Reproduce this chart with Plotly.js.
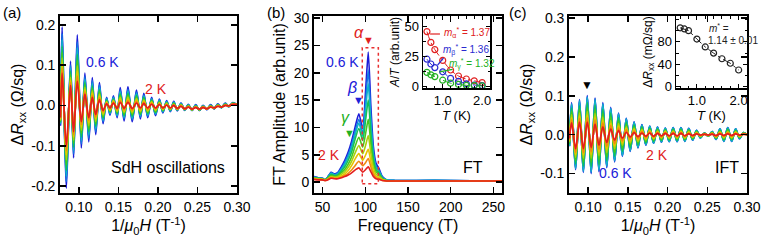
<!DOCTYPE html>
<html><head><meta charset="utf-8">
<script src="https://cdn.plot.ly/plotly-3.0.1.min.js"></script>
<style>html,body{margin:0;padding:0;background:#fff}#chart{width:763px;height:249px}</style>
</head><body><div id="chart"></div>
<script>
// ---------- data ----------
const temps = [0.6,0.7,0.8,1.0,1.2,1.4,1.6,1.8,2.0];
const tempNames = ['0.6 K','0.7 K','0.8 K','1.0 K','1.2 K','1.4 K','1.6 K','1.8 K','2.0 K'];

// (a) SdH oscillations: extrema positions (1/mu0H) and dR values per temperature
const sdhX = [0.0765,0.0787,0.0840,0.0893,0.0932,0.0979,0.1030,0.1075,0.1124,0.1169,0.1212,0.1259,0.1305,0.1350,0.1393,0.1436,0.1483,0.1522,0.1571,0.1620,0.1674,0.1728,0.1777,0.1821,0.1870,0.1920,0.1969,0.2018,0.2062,0.2110,0.2156,0.2200,0.2244,0.2291,0.2338,0.2384,0.2431,0.2478,0.2524,0.2570,0.2618,0.2665,0.2711,0.2757,0.2804,0.2851,0.2897,0.2946,0.3000];
const sdh_06 = [-0.05,0.195,-0.205,0.110,-0.130,0.175,-0.105,0.080,-0.090,0.069,-0.072,0.057,-0.045,0.020,-0.024,0.024,-0.030,0.044,-0.038,0.046,-0.040,0.038,-0.033,0.030,-0.030,0.020,-0.025,0.016,-0.018,0.012,-0.015,0.010,-0.013,0.006,-0.012,0.003,-0.012,0.002,-0.012,0.000,-0.010,0.002,-0.008,0.004,-0.005,0.006,-0.003,0.007,0.002];
const sdh_07 = [-0.047,0.178,-0.189,0.101,-0.120,0.158,-0.095,0.072,-0.081,0.062,-0.065,0.051,-0.040,0.018,-0.021,0.021,-0.027,0.039,-0.033,0.040,-0.035,0.033,-0.029,0.026,-0.026,0.017,-0.022,0.014,-0.016,0.010,-0.014,0.009,-0.012,0.005,-0.011,0.002,-0.012,0.001,-0.012,-0.001,-0.010,0.001,-0.008,0.003,-0.005,0.005,-0.003,0.006,0.002];
const sdh_08 = [-0.044,0.163,-0.176,0.093,-0.112,0.143,-0.087,0.065,-0.073,0.055,-0.058,0.045,-0.036,0.016,-0.019,0.019,-0.024,0.034,-0.029,0.035,-0.031,0.029,-0.025,0.023,-0.023,0.015,-0.020,0.012,-0.015,0.009,-0.012,0.007,-0.011,0.004,-0.011,0.001,-0.011,0.000,-0.011,-0.001,-0.009,0.000,-0.007,0.002,-0.005,0.004,-0.002,0.006,0.002];
const sdh_10 = [-0.042,0.147,-0.161,0.085,-0.103,0.127,-0.078,0.058,-0.065,0.048,-0.051,0.039,-0.031,0.013,-0.016,0.016,-0.020,0.029,-0.025,0.030,-0.026,0.025,-0.022,0.020,-0.020,0.013,-0.017,0.010,-0.013,0.007,-0.011,0.006,-0.010,0.003,-0.010,0.000,-0.011,-0.001,-0.011,-0.002,-0.009,-0.001,-0.007,0.001,-0.005,0.003,-0.002,0.005,0.002];
const sdh_12 = [-0.039,0.132,-0.147,0.077,-0.094,0.112,-0.069,0.051,-0.057,0.042,-0.045,0.033,-0.027,0.011,-0.014,0.014,-0.017,0.024,-0.021,0.025,-0.022,0.020,-0.018,0.016,-0.017,0.011,-0.015,0.008,-0.011,0.006,-0.010,0.005,-0.010,0.002,-0.010,-0.001,-0.010,-0.002,-0.010,-0.003,-0.009,-0.001,-0.007,0.001,-0.004,0.003,-0.002,0.005,0.002];
const sdh_14 = [-0.037,0.118,-0.135,0.070,-0.086,0.098,-0.061,0.045,-0.050,0.036,-0.039,0.028,-0.023,0.009,-0.012,0.012,-0.015,0.020,-0.017,0.021,-0.018,0.017,-0.015,0.013,-0.014,0.009,-0.012,0.007,-0.010,0.005,-0.009,0.003,-0.009,0.001,-0.009,-0.002,-0.010,-0.003,-0.010,-0.003,-0.009,-0.002,-0.007,0.000,-0.004,0.002,-0.002,0.004,0.002];
const sdh_16 = [-0.034,0.105,-0.123,0.063,-0.079,0.085,-0.054,0.039,-0.043,0.031,-0.033,0.023,-0.019,0.008,-0.010,0.010,-0.012,0.016,-0.014,0.016,-0.014,0.013,-0.012,0.011,-0.011,0.007,-0.010,0.005,-0.009,0.003,-0.008,0.002,-0.008,0.000,-0.009,-0.002,-0.010,-0.003,-0.010,-0.004,-0.008,-0.003,-0.006,-0.001,-0.004,0.001,-0.001,0.004,0.002];
const sdh_18 = [-0.032,0.093,-0.112,0.057,-0.072,0.073,-0.047,0.034,-0.037,0.025,-0.028,0.019,-0.016,0.006,-0.008,0.008,-0.010,0.012,-0.010,0.012,-0.011,0.010,-0.009,0.008,-0.009,0.005,-0.008,0.004,-0.007,0.002,-0.007,0.001,-0.008,-0.001,-0.008,-0.003,-0.009,-0.004,-0.009,-0.004,-0.008,-0.003,-0.006,-0.001,-0.004,0.001,-0.001,0.003,0.002];
const sdh_20 = [-0.03,0.08,-0.10,0.05,-0.065,0.06,-0.04,0.028,-0.03,0.02,-0.022,0.014,-0.012,0.004,-0.006,0.006,-0.007,0.008,-0.007,0.008,-0.007,0.006,-0.006,0.005,-0.006,0.003,-0.006,0.002,-0.006,0.001,-0.006,0.000,-0.007,-0.002,-0.008,-0.004,-0.009,-0.005,-0.009,-0.005,-0.008,-0.004,-0.006,-0.002,-0.004,0.000,-0.001,0.003,0.002];

// (b) FT amplitude vs frequency
const ftFreq = [40,45,50,53,56,60,64,68,72,76,80,84,88,92.5,97,100.5,103.5,106.5,109.5,112.5,116,120,125,135,160,200,250,260];
const ft_06 = [1.0,0.8,0.7,0.4,0.9,1.8,1.5,1.8,2.8,4.0,5.5,7.5,10.0,12.5,9.8,17.0,23.8,14.0,6.5,3.5,2.5,1.0,0.4,0.3,0.3,0.3,0.2,0.2];
const ft_07 = [0.9,0.8,0.7,0.4,0.9,1.7,1.4,1.7,2.5,3.6,5.0,6.8,9.2,11.5,9.0,15.0,20.5,12.0,5.6,3.0,2.2,0.9,0.4,0.3,0.3,0.3,0.2,0.2];
const ft_08 = [0.9,0.7,0.6,0.4,0.8,1.6,1.3,1.5,2.3,3.3,4.6,6.3,8.6,10.8,8.4,13.5,18.0,10.6,5.0,2.7,2.0,0.8,0.4,0.3,0.3,0.3,0.2,0.2];
const ft_10 = [0.8,0.7,0.6,0.4,0.8,1.4,1.2,1.3,2.0,2.8,4.0,5.5,7.8,9.8,7.6,11.5,15.0,9.0,4.2,2.3,1.7,0.7,0.3,0.2,0.2,0.2,0.2,0.2];
const ft_12 = [0.8,0.6,0.5,0.4,0.7,1.2,1.0,1.1,1.7,2.3,3.3,4.6,6.5,8.2,6.4,9.0,11.5,7.0,3.4,1.9,1.4,0.6,0.3,0.2,0.2,0.2,0.2,0.2];
const ft_14 = [0.7,0.6,0.5,0.3,0.6,1.0,0.9,1.0,1.4,1.9,2.7,3.8,5.3,6.7,5.2,6.8,8.5,5.3,2.6,1.5,1.1,0.5,0.3,0.2,0.2,0.2,0.2,0.2];
const ft_16 = [0.6,0.5,0.5,0.3,0.5,0.9,0.8,0.8,1.1,1.5,2.1,3.0,4.2,5.2,4.0,5.0,6.0,3.8,1.9,1.1,0.8,0.4,0.2,0.2,0.2,0.2,0.2,0.2];
const ft_18 = [0.5,0.5,0.4,0.3,0.5,0.8,0.7,0.7,0.9,1.2,1.6,2.2,3.0,3.8,3.0,3.6,4.3,2.8,1.4,0.8,0.6,0.3,0.2,0.2,0.2,0.2,0.2,0.2];
const ft_20 = [0.5,0.4,0.4,0.3,0.4,0.7,0.6,0.6,0.8,1.0,1.3,1.7,2.2,2.6,1.8,2.3,2.8,1.9,1.0,0.6,0.5,0.3,0.2,0.2,0.2,0.2,0.2,0.2];
const alphaBox = [96.5, 115.3, -0.3, 24.6];   // FT window used for the IFT

// (b) inset: A/T vs T
const insetT = [0.6,0.7,0.8,1.0,1.2,1.4,1.6,1.8,2.0];
const atAlpha = [46,37,31,22,14,9,6.5,5,3.5];
const atBeta  = [23,19,16,12.5,7,4.5,2.5,1.5,1];
const atGamma = [12,10,8.5,5.5,3,2,1.2,1,0.7];

// (c) IFT oscillations
const iftX = [0.0765,0.0793,0.0843,0.0892,0.0941,0.0990,0.1039,0.1088,0.1137,0.1186,0.1235,0.1285,0.1334,0.1383,0.1432,0.1481,0.1530,0.1579,0.1628,0.1678,0.1727,0.1776,0.1825,0.1874,0.1923,0.1972,0.2021,0.2071,0.2120,0.2169,0.2218,0.2267,0.2316,0.2365,0.2414,0.2464,0.2513,0.2562,0.2611,0.2660,0.2709,0.2758,0.2807,0.2857,0.2906,0.2955,0.3000];
const ift_06 = [-0.030,0.082,-0.090,0.090,-0.097,0.100,-0.100,0.094,-0.095,0.082,-0.085,0.070,-0.070,0.055,-0.055,0.042,-0.043,0.033,-0.034,0.026,-0.027,0.022,-0.022,0.019,-0.019,0.017,-0.018,0.018,-0.018,0.018,-0.017,0.016,-0.014,0.011,-0.008,0.004,-0.004,0.008,-0.012,0.015,-0.017,0.018,-0.017,0.015,-0.010,0.005,0];
const ift_07 = [-0.029,0.080,-0.088,0.088,-0.095,0.098,-0.098,0.092,-0.093,0.080,-0.083,0.068,-0.068,0.054,-0.054,0.041,-0.042,0.032,-0.033,0.025,-0.026,0.021,-0.021,0.019,-0.019,0.017,-0.018,0.018,-0.018,0.018,-0.017,0.016,-0.014,0.011,-0.008,0.004,-0.004,0.008,-0.012,0.015,-0.017,0.018,-0.017,0.015,-0.010,0.005,0];
const ift_08 = [-0.029,0.078,-0.086,0.086,-0.093,0.095,-0.095,0.089,-0.090,0.078,-0.080,0.066,-0.066,0.052,-0.052,0.039,-0.040,0.031,-0.032,0.024,-0.025,0.021,-0.021,0.018,-0.018,0.016,-0.017,0.017,-0.017,0.017,-0.016,0.015,-0.013,0.010,-0.008,0.004,-0.004,0.008,-0.011,0.014,-0.016,0.017,-0.016,0.014,-0.009,0.005,0];
const ift_10 = [-0.025,0.068,-0.075,0.074,-0.081,0.082,-0.082,0.076,-0.077,0.065,-0.067,0.055,-0.055,0.043,-0.043,0.032,-0.033,0.025,-0.026,0.020,-0.021,0.017,-0.017,0.015,-0.015,0.013,-0.014,0.014,-0.014,0.014,-0.013,0.012,-0.011,0.009,-0.006,0.003,-0.003,0.006,-0.009,0.011,-0.013,0.014,-0.013,0.011,-0.008,0.004,0];
const ift_12 = [-0.021,0.059,-0.066,0.064,-0.070,0.069,-0.070,0.064,-0.064,0.054,-0.056,0.045,-0.045,0.035,-0.034,0.026,-0.026,0.020,-0.021,0.016,-0.017,0.014,-0.014,0.012,-0.012,0.011,-0.011,0.011,-0.011,0.011,-0.011,0.010,-0.009,0.007,-0.005,0.003,-0.003,0.005,-0.008,0.009,-0.010,0.011,-0.010,0.009,-0.006,0.003,0];
const ift_14 = [-0.018,0.051,-0.058,0.055,-0.060,0.059,-0.060,0.054,-0.054,0.045,-0.046,0.036,-0.036,0.028,-0.027,0.020,-0.021,0.016,-0.017,0.013,-0.013,0.011,-0.011,0.009,-0.009,0.009,-0.009,0.009,-0.009,0.009,-0.009,0.008,-0.007,0.006,-0.004,0.002,-0.002,0.004,-0.006,0.007,-0.008,0.008,-0.008,0.007,-0.005,0.003,0];
const ift_16 = [-0.015,0.044,-0.051,0.048,-0.052,0.050,-0.051,0.045,-0.045,0.037,-0.038,0.029,-0.029,0.022,-0.021,0.016,-0.016,0.013,-0.013,0.010,-0.010,0.009,-0.009,0.007,-0.007,0.007,-0.007,0.007,-0.007,0.007,-0.007,0.006,-0.005,0.004,-0.003,0.002,-0.002,0.003,-0.005,0.006,-0.006,0.006,-0.006,0.006,-0.003,0.002,0];
const ift_18 = [-0.013,0.038,-0.045,0.041,-0.046,0.043,-0.044,0.038,-0.038,0.030,-0.030,0.023,-0.023,0.017,-0.016,0.012,-0.012,0.009,-0.010,0.008,-0.008,0.007,-0.007,0.006,-0.006,0.005,-0.005,0.005,-0.005,0.005,-0.005,0.004,-0.004,0.003,-0.002,0.001,-0.001,0.002,-0.004,0.004,-0.004,0.005,-0.004,0.004,-0.002,0.002,0];
const ift_20 = [-0.010,0.030,-0.036,0.032,-0.036,0.032,-0.033,0.027,-0.027,0.020,-0.020,0.014,-0.014,0.010,-0.009,0.006,-0.006,0.005,-0.005,0.004,-0.004,0.004,-0.004,0.003,-0.003,0.003,-0.003,0.003,-0.003,0.003,-0.003,0.002,-0.002,0.002,-0.001,0.001,-0.001,0.001,-0.002,0.002,-0.002,0.002,-0.002,0.002,-0.001,0.001,0];

// (c) inset: dRxx at the marked peak vs T (mOhm/sq)
const dRpeak = [105,103,100,85,71,60,50,42,30];

// ---------- style ----------
const colors = ['#1c1cd8','#1478e4','#10b4c8','#14c05a','#46c81e','#a8d00c','#e6c400','#f08a10','#e41e1e'];
const FONT = 'Arial, "Liberation Sans", Helvetica, sans-serif';
const W = 763, H = 249;
const px = x => x / W, py = y => 1 - y / H;

const sdhCurves = [sdh_06,sdh_07,sdh_08,sdh_10,sdh_12,sdh_14,sdh_16,sdh_18,sdh_20];
const ftCurves  = [ft_06,ft_07,ft_08,ft_10,ft_12,ft_14,ft_16,ft_18,ft_20];
const iftCurves = [ift_06,ift_07,ift_08,ift_10,ift_12,ift_14,ift_16,ift_18,ift_20];

const traces = [];
sdhCurves.forEach((ys,i)=>traces.push({x:sdhX,y:ys,xaxis:'x',yaxis:'y',mode:'lines',name:tempNames[i],
  line:{color:colors[i],width:1.8,shape:'spline',smoothing:0.9},hoverinfo:'skip'}));
ftCurves.forEach((ys,i)=>traces.push({x:ftFreq,y:ys,xaxis:'x2',yaxis:'y2',mode:'lines',name:tempNames[i],
  line:{color:colors[i],width:1.6,shape:'spline',smoothing:0.6},hoverinfo:'skip'}));
iftCurves.forEach((ys,i)=>traces.push({x:iftX,y:ys,xaxis:'x3',yaxis:'y3',mode:'lines',name:tempNames[i],
  line:{color:colors[i],width:1.8,shape:'spline',smoothing:0.9},hoverinfo:'skip'}));
const insetSeries = [[atAlpha,'#e02020','dashdot'],[atBeta,'#2a2ad0','dash'],[atGamma,'#22b022','dash']];
insetSeries.forEach(([ys,c,d])=>traces.push({x:insetT,y:ys,xaxis:'x4',yaxis:'y4',mode:'lines+markers',
  line:{color:c,width:1,dash:d,shape:'spline'},marker:{symbol:'circle-open',size:6,color:c,line:{width:1.2,color:c}},hoverinfo:'skip'}));
traces.push({x:insetT,y:dRpeak,xaxis:'x5',yaxis:'y5',mode:'lines+markers',
  line:{color:'#222',width:1,dash:'dashdot'},marker:{symbol:'circle-open',size:6,color:'#222',line:{width:1.2,color:'#222'}},hoverinfo:'skip'});

const axBase = {showline:true,linecolor:'#000',linewidth:1.8,mirror:'ticks',ticks:'inside',ticklen:6,tickwidth:1.5,tickcolor:'#000',
  showgrid:false,zeroline:false,tickfont:{family:FONT,size:14,color:'#000'}};
const titleFont = {family:FONT,size:16,color:'#000'};
const inBase = Object.assign({},axBase,{ticklen:4,tickwidth:1.2,linewidth:1.5,tickfont:{family:FONT,size:13,color:'#000'},
  minor:{ticks:'inside',ticklen:2.5,tickwidth:1,tickcolor:'#000'}});

const dom = (x0,x1)=>[px(x0),px(x1)];
const vdom = (y0,y1)=>[py(y1),py(y0)];

const layout = {
  width:W,height:H,margin:{l:0,r:0,t:0,b:0},paper_bgcolor:'#fff',plot_bgcolor:'rgba(0,0,0,0)',showlegend:false,
  font:{family:FONT,color:'#000'},
  xaxis:Object.assign({},axBase,{domain:dom(60,237),anchor:'y',range:[0.076,0.30],tickvals:[0.10,0.15,0.20,0.25,0.30],tickformat:'.2f',
    title:{text:'1/<i>μ</i><sub>0</sub><i>H</i> (T<sup>-1</sup>)',font:titleFont,standoff:6}}),
  yaxis:Object.assign({},axBase,{domain:vdom(16,193),anchor:'x',range:[-0.217,0.222],
    tickvals:[-0.2,-0.1,0,0.1,0.2],ticktext:['-0.2','-0.1','0.0','0.1','0.2'],
    title:{text:'Δ<i>R</i><sub>xx</sub> (Ω/sq)',font:titleFont,standoff:4}}),
  xaxis2:Object.assign({},axBase,{domain:dom(314,502),anchor:'y2',range:[40,260],tickvals:[50,100,150,200,250],
    title:{text:'Frequency (T)',font:titleFont,standoff:6}}),
  yaxis2:Object.assign({},axBase,{domain:vdom(16,193),anchor:'x2',range:[-2,30.4],tickvals:[0,5,10,15,20,25,30],
    title:{text:'FT Amplitude (arb.unit)',font:titleFont,standoff:4}}),
  xaxis3:Object.assign({},axBase,{domain:dom(569,747),anchor:'y3',range:[0.076,0.30],tickvals:[0.10,0.15,0.20,0.25,0.30],tickformat:'.2f',
    title:{text:'1/<i>μ</i><sub>0</sub><i>H</i> (T<sup>-1</sup>)',font:titleFont,standoff:6}}),
  yaxis3:Object.assign({},axBase,{domain:vdom(16,193),anchor:'x3',range:[-0.15,0.305],
    tickvals:[-0.1,0,0.1,0.2,0.3],ticktext:['-0.1','0.0','0.1','0.2','0.3'],
    title:{text:'Δ<i>R</i><sub>xx</sub> (Ω/sq)',font:titleFont,standoff:4}}),
  xaxis4:Object.assign({},inBase,{domain:dom(423,490),anchor:'y4',range:[0.5,2.2],tickvals:[1,2],tickformat:'.1f',
    minor:Object.assign({},inBase.minor,{dtick:0.2,tick0:0}),
    title:{text:'<i>T</i> (K)',font:{family:FONT,size:13,color:'#000'},standoff:2}}),
  yaxis4:Object.assign({},inBase,{domain:vdom(16,88),anchor:'x4',range:[-1,59],tickvals:[0,25,50],
    minor:Object.assign({},inBase.minor,{dtick:12.5,tick0:0}),
    title:{text:'<i>A</i>/<i>T</i> (arb.unit)',font:{family:FONT,size:12,color:'#000'},standoff:2}}),
  xaxis5:Object.assign({},inBase,{domain:dom(676,747),anchor:'y5',range:[0.5,2.2],tickvals:[1,2],tickformat:'.1f',
    minor:Object.assign({},inBase.minor,{dtick:0.2,tick0:0}),
    title:{text:'<i>T</i> (K)',font:{family:FONT,size:13,color:'#000'},standoff:2}}),
  yaxis5:Object.assign({},inBase,{domain:vdom(16,88),anchor:'x5',range:[-2,126],tickvals:[0,40,80],
    minor:Object.assign({},inBase.minor,{dtick:20,tick0:0}),
    title:{text:'Δ<i>R</i><sub>xx</sub> (mΩ/sq)',font:{family:FONT,size:12,color:'#000'},standoff:2}}),
  shapes:[
    {type:'rect',xref:'x2',yref:'y2',x0:alphaBox[0],x1:alphaBox[1],y0:alphaBox[2],y1:alphaBox[3],
      line:{color:'#e83030',width:1.5,dash:'dot'}},
    {type:'line',xref:'x4',yref:'y4',x0:0.68,x1:0.93,y0:44,y1:44,line:{color:'#e02020',width:1.2}},
    {type:'line',xref:'x4',yref:'y4',x0:0.87,x1:1.02,y0:18,y1:24,line:{color:'#2a2ad0',width:1.2}},
    {type:'line',xref:'x4',yref:'y4',x0:0.92,x1:1.25,y0:12.5,y1:14.5,line:{color:'#22b022',width:1.2}}
  ],
  annotations:[]
};
const ann = (t,x,y,o={})=>layout.annotations.push(Object.assign({text:t,x:px(x),y:py(y),xref:'paper',yref:'paper',
  showarrow:false,xanchor:'center',yanchor:'middle',font:{family:FONT,size:14,color:'#000'}},o));
const f = (s,c)=>({family:FONT,size:s,color:c});
ann('(a)',12,12,{font:f(15,'#000')});
ann('(b)',276,12,{font:f(15,'#000')});
ann('(c)',518,12,{font:f(15,'#000')});
ann('0.6 K',103,62,{font:f(14,'#2020d8')});
ann('2 K',156,89,{font:f(14,'#e02020')});
ann('SdH oscillations',168,167,{font:f(16,'#000')});
ann('<i>α</i>',359,32,{font:f(16,'#e02020')});
ann('▼',368,40,{font:f(11,'#e02020')});
ann('0.6 K',342,62,{font:f(14,'#2020d8')});
ann('<i>β</i>',352,87,{font:f(16,'#2020d8')});
ann('▼',358,100,{font:f(11,'#2020d8')});
ann('<i>γ</i>',345,117,{font:f(16,'#22b022')});
ann('▼',349,133,{font:f(11,'#22b022')});
ann('2 K',329,155,{font:f(14,'#e02020')});
ann('FT',473,167,{font:f(16,'#000')});
ann('<i>m</i><sub>α</sub><sup>*</sup> = 1.37',467,33,{font:f(10,'#e02020')});
ann('<i>m</i><sub>β</sub><sup>*</sup> = 1.36',466,50,{font:f(10,'#2a2ad0')});
ann('<i>m</i><sub>γ</sub><sup>*</sup> = 1.32',472,64,{font:f(10,'#22b022')});
ann('▼',587,85,{font:f(12,'#000')});
ann('2 K',657,155,{font:f(14,'#e02020')});
ann('0.6 K',615,173,{font:f(14,'#2020d8')});
ann('IFT',727,167,{font:f(16,'#000')});
ann('<i>m</i><sup>*</sup> =',719,28,{font:f(10,'#222')});
ann('1.14 ± 0.01',733,40,{font:f(10,'#222')});

Plotly.newPlot('chart',traces,layout,{staticPlot:true,displayModeBar:false});
</script></body></html>
